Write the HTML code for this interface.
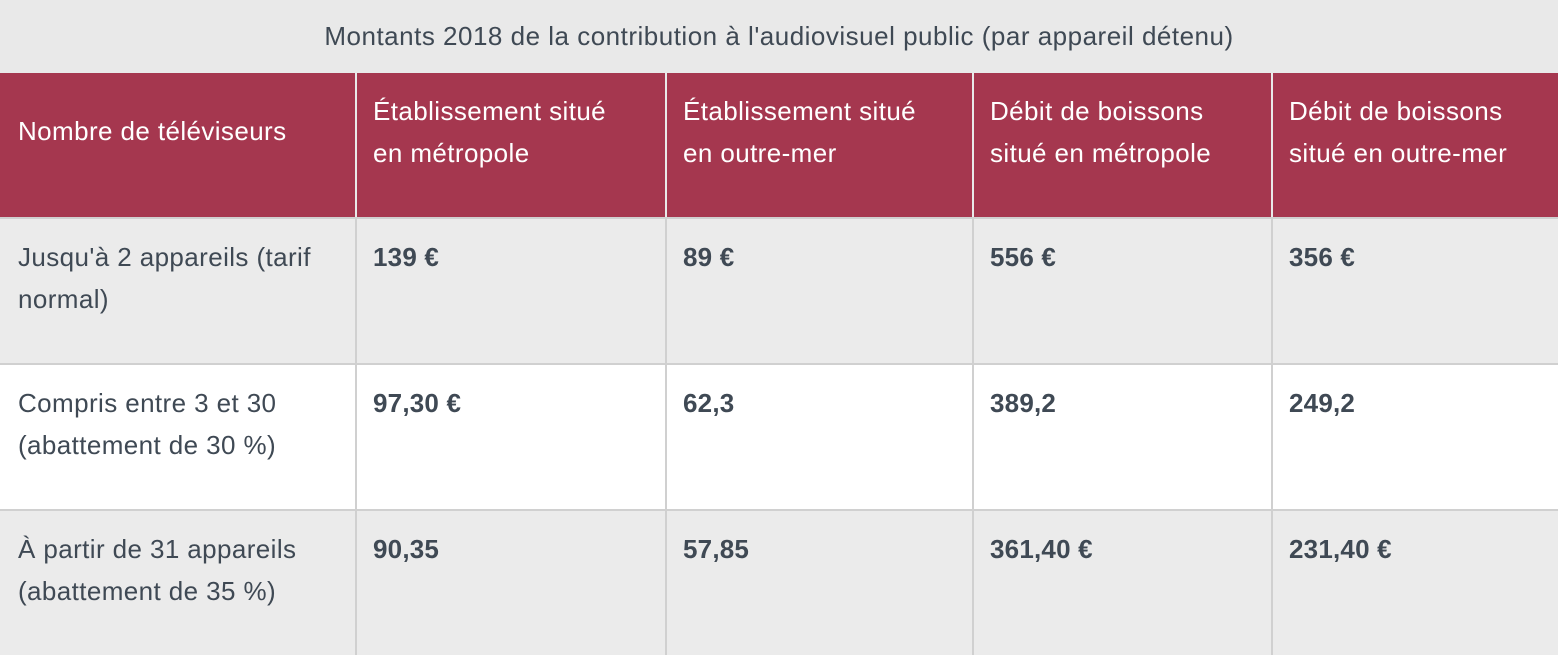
<!DOCTYPE html>
<html><head><meta charset="utf-8"><style>
body{margin:0;width:1558px;height:654px;overflow:hidden;background:#e9e9e9;font-family:"Liberation Sans",sans-serif;}
.cap{position:absolute;left:0;top:0;width:1558px;height:73px;line-height:72px;text-align:center;font-size:26px;letter-spacing:0.5px;color:#3f4954;}
.c{position:absolute;box-sizing:border-box;padding:16px 16px 0 16px;font-size:26px;letter-spacing:0.4px;line-height:42px;color:#3f4954;}
.h{background:#a5374f;color:#fff;top:73px;height:144px;}
.b{font-weight:bold;letter-spacing:0.2px;}
</style></head><body>
<div class="cap">Montants 2018 de la contribution à l'audiovisuel public (par appareil détenu)</div>
<div id="t"></div>
<script>
const cols=[0,355,665,972,1271,1558];
const headers=["Nombre de téléviseurs","Établissement situé<br>en métropole","Établissement situé<br>en outre-mer","Débit de boissons<br>situé en métropole","Débit de boissons<br>situé en outre-mer"];
const rowLabels=["Jusqu'à 2 appareils (tarif<br>normal)","Compris entre 3 et 30<br>(abattement de 30 %)","À partir de 31 appareils<br>(abattement de 35 %)"];
const values=[["139 €","89 €","556 €","356 €"],["97,30 €","62,3","389,2","249,2"],["90,35","57,85","361,40 €","231,40 €"]];
const rowTops=[217,363,509,655];
const t=document.getElementById('t');
function cell(x,y,w,h,html,cls,bg,name){
 const d=document.createElement('div');
 d.className='c '+cls;
 d.style.left=x+'px';d.style.top=y+'px';d.style.width=w+'px';d.style.height=h+'px';
 if(bg)d.style.background=bg;
 d.innerHTML=html;
 
 
 t.appendChild(d);return d;
}
headers.forEach((h,i)=>{
 const x=cols[i]+(i?2:0), w=cols[i+1]-x;
 const d=cell(x,73,w,144,h,'h',null,'header-cell');
 if(i===0){d.style.paddingTop='37px';d.style.paddingLeft='18px';}
 else{d.style.paddingTop='17px';}
});
rowLabels.forEach((lab,r)=>{
 const y=rowTops[r]+2, h=rowTops[r+1]-y;
 const bg=r===1?'#ffffff':'#ebebeb';
 const line=document.createElement('div');
 line.style.cssText='position:absolute;left:0;top:'+rowTops[r]+'px;width:1558px;height:2px;background:#d0d0d0';
 
 
 t.appendChild(line);
 const a=cell(0,y,cols[1],h,lab,'',bg,'row-label');a.style.paddingTop='17px';a.style.paddingLeft='18px';
 values[r].forEach((v,j)=>{
  const x=cols[j+1]+2;
  const vl=document.createElement('div');
  vl.style.cssText='position:absolute;left:'+cols[j+1]+'px;top:'+y+'px;width:2px;height:'+h+'px;background:#d0d0d0';
  
  
  t.appendChild(vl);
  const c=cell(x,y,cols[j+2]-x,h,v,'b',bg,'value-cell');c.style.paddingTop='17px';
 });
});
</script>
</body></html>
